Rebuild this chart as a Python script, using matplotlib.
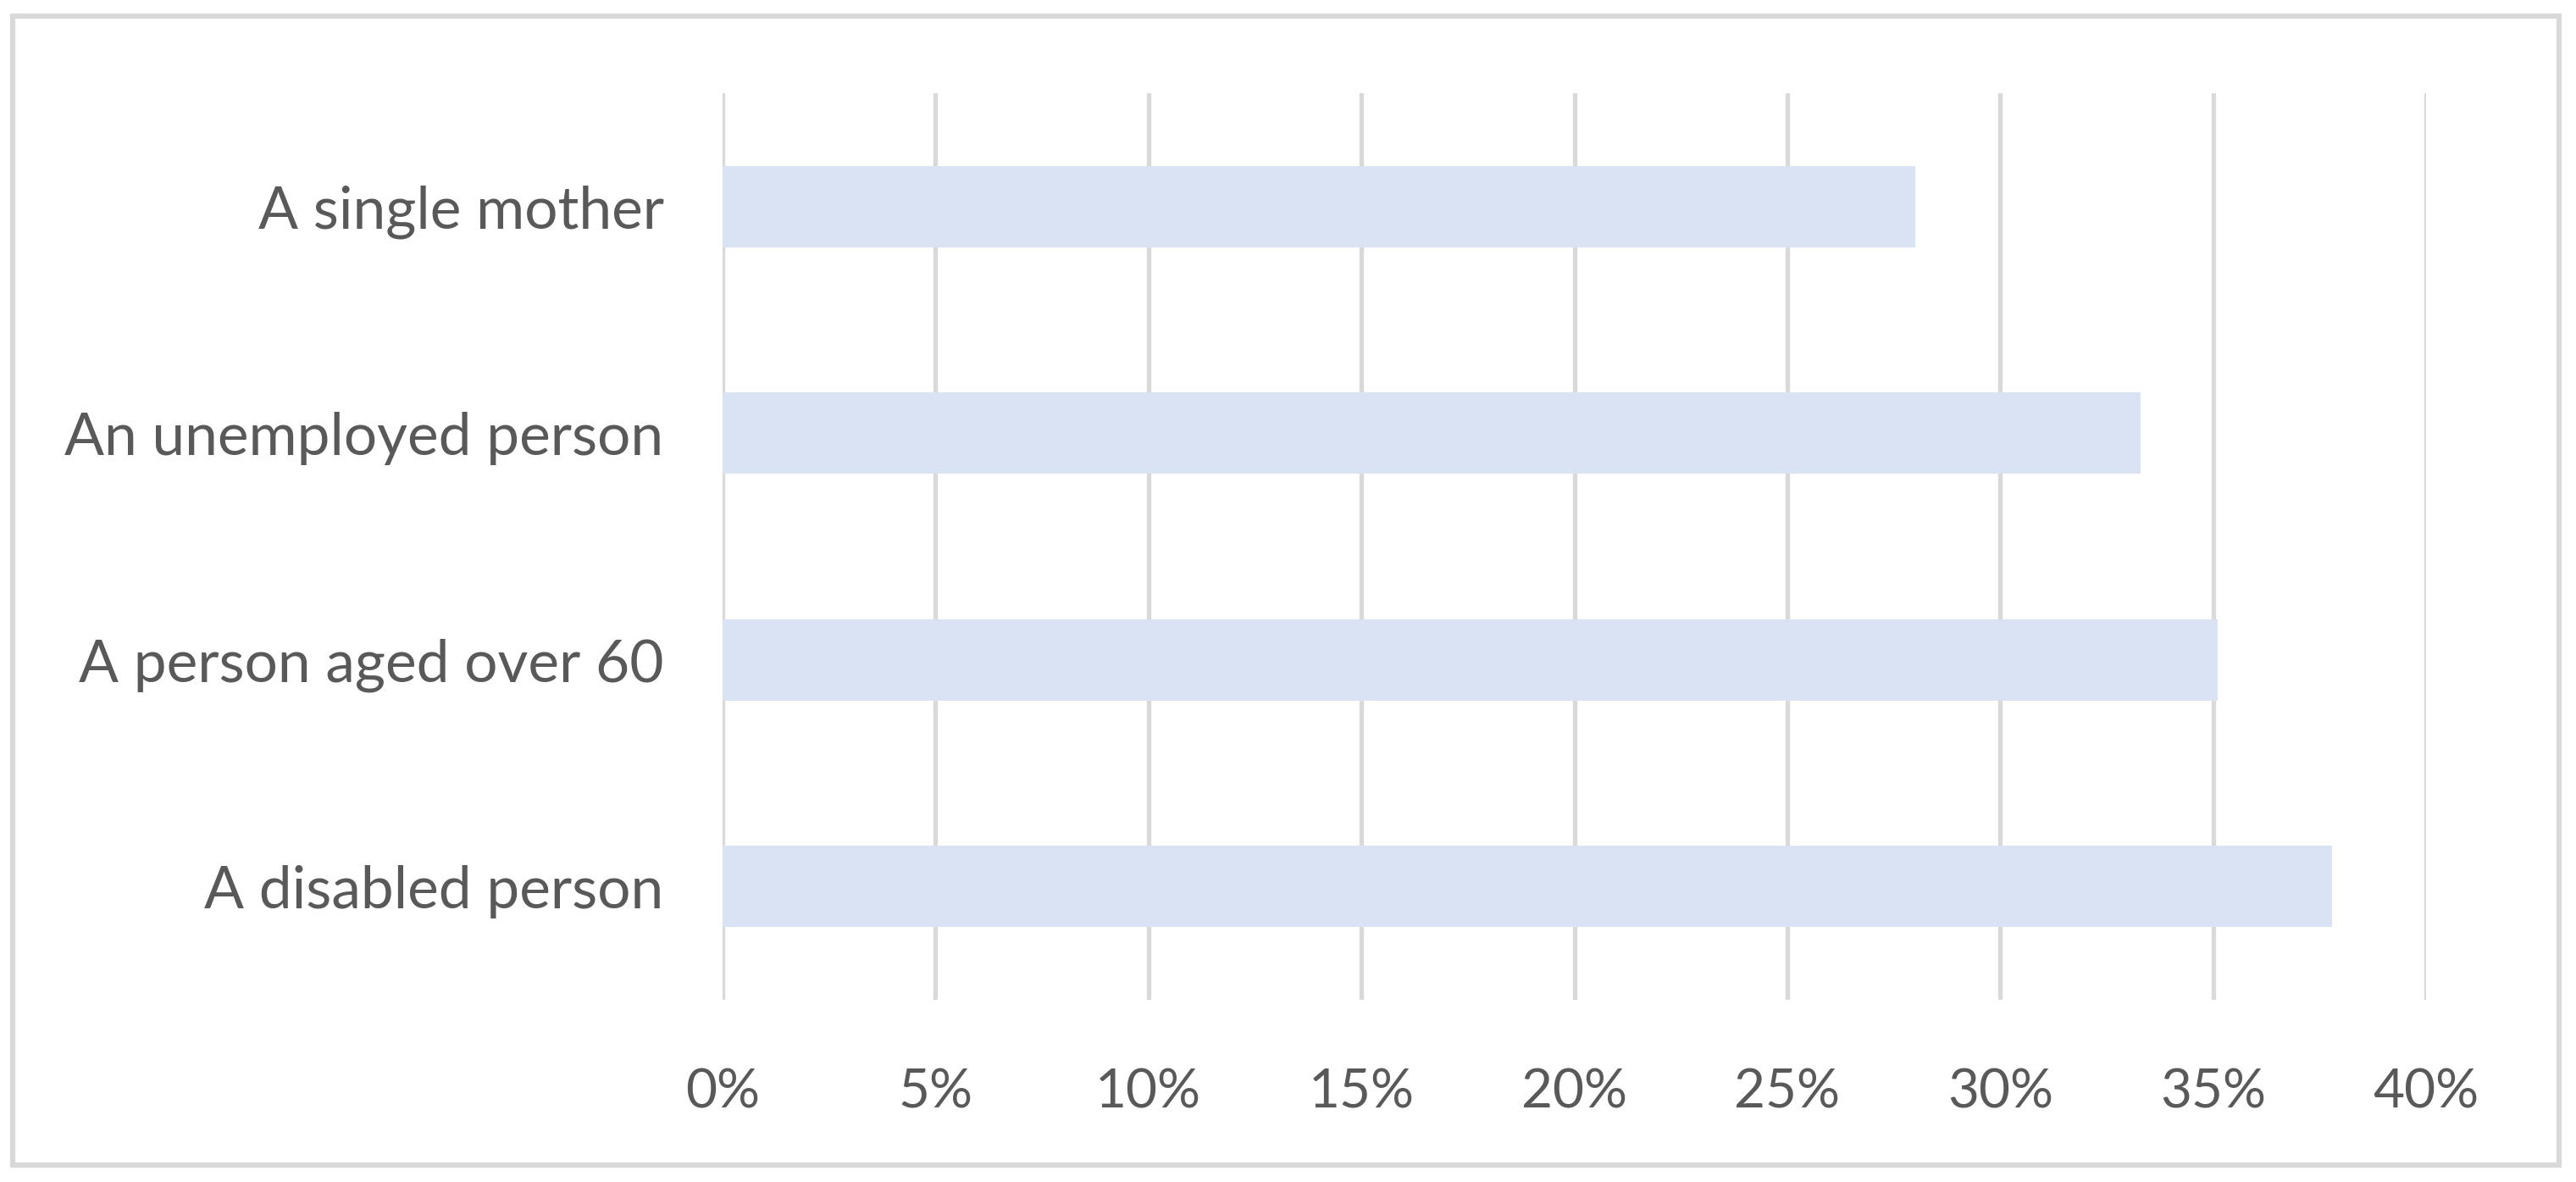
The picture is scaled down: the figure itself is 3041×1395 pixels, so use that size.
import matplotlib.pyplot as plt
from matplotlib.patches import Rectangle
from matplotlib.ticker import FuncFormatter

# Data (share of respondents)
categories = ['A disabled person', 'A person aged over 60', 'An unemployed person', 'A single mother']
values = [37.8, 35.1, 33.3, 28.0]
x_ticks = [0, 5, 10, 15, 20, 25, 30, 35, 40]

W, H = 3041, 1395
DPI = 100
TEXT = '#595959'
GRID = '#D9D9D9'
BAR = '#DAE3F3'

plt.rcParams['font.family'] = ['Lato', 'DejaVu Sans']

fig = plt.figure(figsize=(W / DPI, H / DPI), dpi=DPI)
fig.patch.set_facecolor('white')

# axes placed in pixel terms: x 853..2864, y 110..1180 (from top)
left, right, top, bottom = 853, 2864, 110, 1180
ax = fig.add_axes([left / W, 1 - bottom / H, (right - left) / W, (bottom - top) / H])

ax.barh(range(len(categories)), values, height=0.36, color=BAR, zorder=3)

ax.set_xlim(0, 40)
ax.set_ylim(-0.5, len(categories) - 0.5)
ax.set_xticks(x_ticks)
ax.xaxis.set_major_formatter(FuncFormatter(lambda v, p: f'{v:.0f}%'))
ax.set_yticks(range(len(categories)))
ax.set_yticklabels(categories)

ax.xaxis.grid(True, color=GRID, linewidth=3.8, zorder=0)
ax.yaxis.grid(False)
for s in ax.spines.values():
    s.set_visible(False)
ax.tick_params(axis='both', length=0, colors=TEXT)
ax.tick_params(axis='x', pad=58, labelsize=46)
ax.tick_params(axis='y', pad=50, labelsize=50)

# outer chart border
fig.patches.append(Rectangle((15 / W, 1 - 1375 / H), (3021 - 15) / W, (1375 - 19) / H,
                             transform=fig.transFigure, fill=False,
                             edgecolor=GRID, linewidth=4.5))

fig.savefig('out.png', dpi=DPI, facecolor='white')
